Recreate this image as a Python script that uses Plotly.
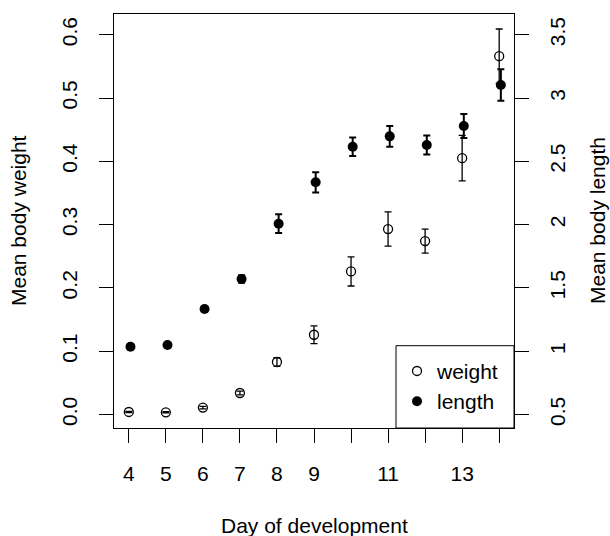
import plotly.graph_objects as go

days = [4, 5, 6, 7, 8, 9, 10, 11, 12, 13, 14]
day_labels = ["4", "5", "6", "7", "8", "9", "", "11", "", "13", ""]
weight = [0.004, 0.0035, 0.011, 0.034, 0.083, 0.126, 0.226, 0.293, 0.274, 0.405, 0.566]
weight_se = [0.001, 0.001, 0.002, 0.003, 0.007, 0.014, 0.023, 0.027, 0.019, 0.036, 0.043]
length = [1.035, 1.049, 1.333, 1.570, 2.007, 2.334, 2.615, 2.697, 2.629, 2.779, 3.103]
length_se = [0.01, 0.012, 0.02, 0.03, 0.074, 0.08, 0.074, 0.082, 0.075, 0.095, 0.125]
weight_ticks = [0.0, 0.1, 0.2, 0.3, 0.4, 0.5, 0.6]
weight_tick_labels = ["0.0", "0.1", "0.2", "0.3", "0.4", "0.5", "0.6"]
length_ticks = [0.5, 1.0, 1.5, 2.0, 2.5, 3.0, 3.5]
length_tick_labels = ["0.5", "1", "1.5", "2", "2.5", "3", "3.5"]

FONT = "Liberation Sans, Arial, sans-serif"
FS = 21
length_offset = 0.045

fig = go.Figure()
fig.add_trace(go.Scatter(
    x=days, y=weight, mode="markers", name="weight",
    marker=dict(symbol="circle-open", size=9, color="black", line=dict(width=1.3, color="black")),
    error_y=dict(type="data", array=weight_se, visible=True, thickness=1.3, width=3.5, color="black"),
    legendgroup="a", yaxis="y",
))
fig.add_trace(go.Scatter(
    x=[d + length_offset for d in days], y=length, mode="markers", name="length",
    marker=dict(symbol="circle", size=10, color="black"),
    error_y=dict(type="data", array=length_se, visible=True, thickness=2, width=3.5, color="black"),
    legendgroup="b", yaxis="y2",
))

fig.update_layout(
    width=610, height=536,
    margin=dict(l=114, r=96, t=14, b=108),
    paper_bgcolor="white", plot_bgcolor="white",
    font=dict(family=FONT, size=FS, color="black"),
    showlegend=True,
    legend=dict(x=0.7075, y=0.1864, xanchor="left", yanchor="top",
                bgcolor="rgba(0,0,0,0)", borderwidth=0,
                font=dict(size=FS), tracegroupgap=0, traceorder="grouped",
                itemwidth=30),
    xaxis=dict(range=[3.6, 14.4], tickvals=days, ticktext=day_labels,
               ticks="outside", ticklen=14, tickwidth=1, tickcolor="black",
               showline=True, linecolor="black", linewidth=1, mirror=True,
               showgrid=False, zeroline=False, ticklabelstandoff=13),
    yaxis=dict(range=[-0.0213, 0.6327], tickvals=weight_ticks, ticktext=weight_tick_labels,
               tickangle=-90, ticks="outside", ticklen=14, tickwidth=1, tickcolor="black",
               showline=True, linecolor="black", linewidth=1, mirror=True,
               showgrid=False, zeroline=False, ticklabelstandoff=14),
    yaxis2=dict(range=[0.3935, 3.6635], tickvals=length_ticks, ticktext=length_tick_labels,
                tickangle=-90, overlaying="y", side="right",
                ticks="outside", ticklen=14, tickwidth=1, tickcolor="black",
                showline=False, showgrid=False, zeroline=False, ticklabelstandoff=11),
    shapes=[dict(type="rect", xref="paper", yref="paper", x0=0.705, x1=1.0, y0=0.0, y1=0.1988,
                 line=dict(color="black", width=1), fillcolor="rgba(0,0,0,0)")],
    annotations=[
        dict(text="Mean body weight", xref="paper", yref="paper", x=0, y=0.5,
             xanchor="center", yanchor="middle", xshift=-96, textangle=-90, showarrow=False,
             font=dict(size=FS)),
        dict(text="Mean body length", xref="paper", yref="paper", x=1, y=0.5,
             xanchor="center", yanchor="middle", xshift=83, textangle=-90, showarrow=False,
             font=dict(size=FS)),
        dict(text="Day of development", xref="paper", yref="paper", x=0.5, y=0,
             xanchor="center", yanchor="middle", yshift=-97, showarrow=False,
             font=dict(size=FS)),
    ],
)

fig.write_html("out.html", config={"displayModeBar": False},
               post_script="document.body.style.margin='0px';document.body.style.padding='0px';")
